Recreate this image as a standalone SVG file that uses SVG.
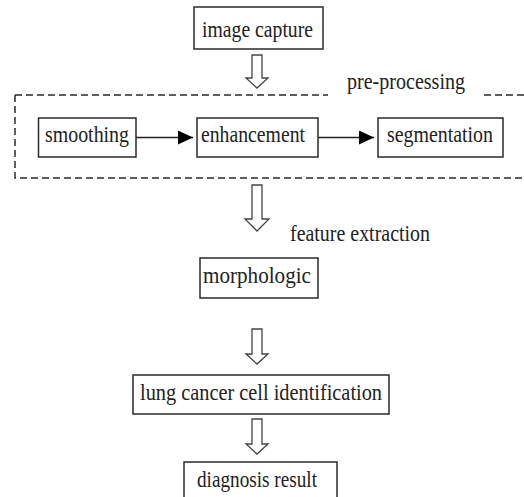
<svg xmlns="http://www.w3.org/2000/svg" width="524" height="497" viewBox="0 0 524 497">
<style>
.box{fill:#fff;stroke:#2a2a2a;stroke-width:1.5}
.t{font-family:"Liberation Serif","Times New Roman",serif;font-size:23px;fill:#222}
.hollow{fill:#fff;stroke:#444;stroke-width:1.3;stroke-linejoin:miter}
.link{stroke:#222;stroke-width:1.3;fill:none}
.dash{fill:none;stroke:#2a2a2a;stroke-width:1.5;stroke-dasharray:7 4}
</style>
<defs>
<marker id="ah" markerUnits="userSpaceOnUse" markerWidth="16" markerHeight="16" refX="15" refY="7" orient="auto">
<path d="M0,0 L15,7 L0,14 Z" fill="#000"/>
</marker>
</defs>
<rect width="524" height="497" fill="#fff"/>
<g id="preprocessing">
<path class="dash" d="M15,95 H328 M484,95 H524 M15,95 V178 H524"/>
<text class="t" x="347" y="89" textLength="118" lengthAdjust="spacingAndGlyphs">pre-processing</text>
</g>
<g id="connectors">
<path class="hollow" d="M252,55 H262 V78 H268 L257,88 L246,78 H252 Z"/>
<path class="hollow" d="M252,185 H262 V219 H269 L257,231 L245,219 H252 Z"/>
<path class="hollow" d="M252,329 H262 V354 H268 L257,364 L246,354 H252 Z"/>
<path class="hollow" d="M252,419 H262 V444 H268 L257,454 L246,444 H252 Z"/>
<line class="link" x1="136" y1="137.5" x2="193" y2="137.5" marker-end="url(#ah)"/>
<line class="link" x1="318" y1="137.5" x2="374" y2="137.5" marker-end="url(#ah)"/>
</g>
<g id="image-capture">
<rect class="box" x="194" y="7" width="129" height="42"/>
<text class="t" x="202" y="37" textLength="111" lengthAdjust="spacingAndGlyphs">image capture</text>
</g>
<g id="smoothing">
<rect class="box" x="38.5" y="118" width="97.5" height="39"/>
<text class="t" x="45" y="142" textLength="84" lengthAdjust="spacingAndGlyphs">smoothing</text>
</g>
<g id="enhancement">
<rect class="box" x="197" y="118" width="121" height="39"/>
<text class="t" x="201" y="142" textLength="104" lengthAdjust="spacingAndGlyphs">enhancement</text>
</g>
<g id="segmentation">
<rect class="box" x="378" y="118" width="125" height="39"/>
<text class="t" x="387" y="142" textLength="106" lengthAdjust="spacingAndGlyphs">segmentation</text>
</g>
<g id="feature-extraction">
<text class="t" x="290" y="241" textLength="140" lengthAdjust="spacingAndGlyphs">feature extraction</text>
</g>
<g id="morphologic">
<rect class="box" x="200" y="258" width="118" height="40"/>
<text class="t" x="203" y="283" textLength="108" lengthAdjust="spacingAndGlyphs">morphologic</text>
</g>
<g id="identification">
<rect class="box" x="133" y="375" width="256" height="39"/>
<text class="t" x="140" y="400" textLength="242" lengthAdjust="spacingAndGlyphs">lung cancer cell identification</text>
</g>
<g id="diagnosis">
<rect class="box" x="184" y="462" width="153" height="42"/>
<text class="t" x="197" y="487" textLength="120" lengthAdjust="spacingAndGlyphs">diagnosis result</text>
</g>
</svg>
